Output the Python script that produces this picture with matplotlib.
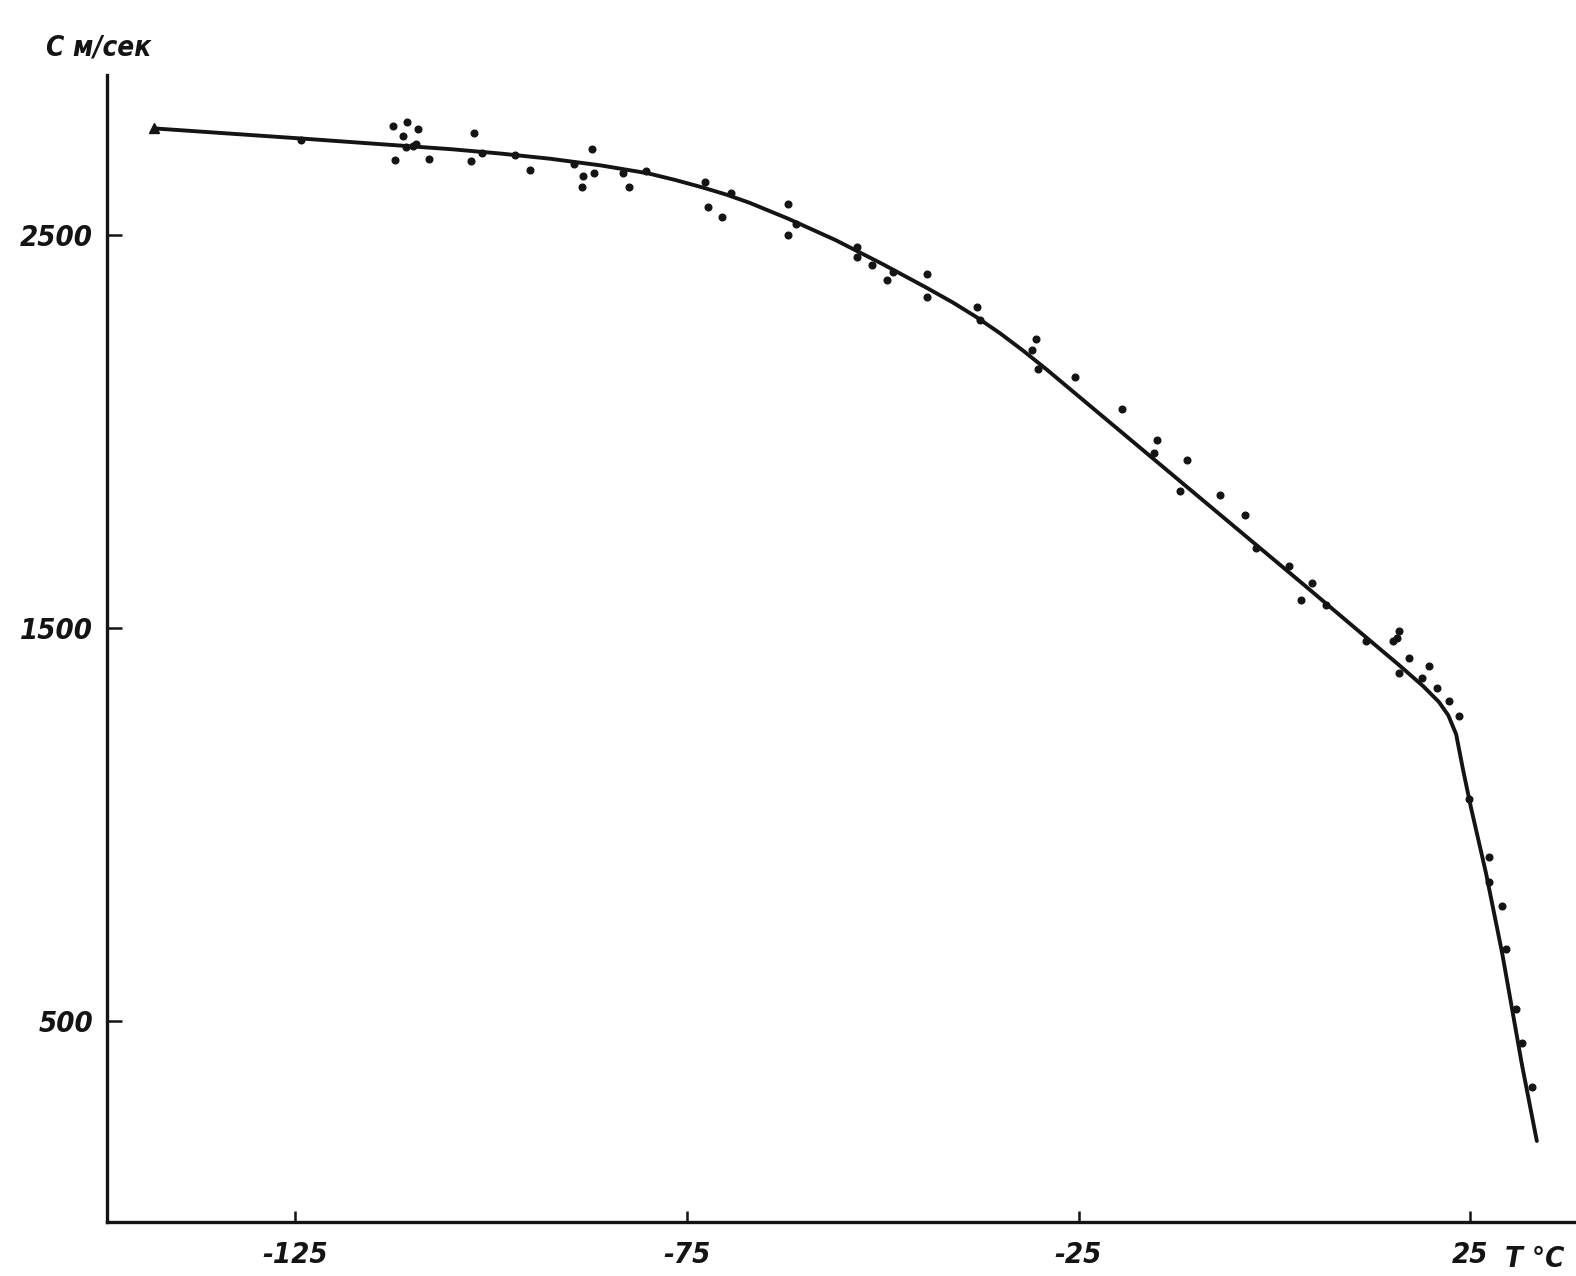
import matplotlib
matplotlib.use("Agg")
import matplotlib.pyplot as plt

# Fitted curve (T in °C, C in m/s)
curve_t = [-143.0, -124.0, -105.0, -98.75, -92.5, -86.0, -80.0, -76.5, -73.0, -70.0,
           -67.0, -62.0, -56.0, -50.0, -44.4, -41.0, -38.0, -35.0, -32.0, -29.0,
           -26.0, -20.0, -14.0, -8.0, -2.0, 4.0, 10.0, 15.9, 19.0, 21.0,
           22.2, 23.2, 24.1, 25.1, 27.0, 29.1, 31.6, 33.5]
curve_c = [2770, 2744, 2717, 2706, 2693, 2676, 2656, 2639, 2620, 2602,
           2581, 2540, 2486, 2425, 2365, 2327, 2290, 2249, 2204, 2156,
           2106, 2006, 1906, 1806, 1706, 1606, 1505, 1406, 1352, 1312,
           1278, 1230, 1138, 1043, 878, 671, 390, 196]

# Measured points
pts_t = [-112.5, -110.7, -109.3, -111.2, -110.0, -112.2, -107.9, -102.2, -102.6, -101.1,
         -96.9, -95.0, -89.4, -87.1, -88.3, -88.4, -86.9, -83.2, -82.4, -80.2,
         -72.7, -72.3, -70.5, -69.3, -62.1, -62.1, -61.0, -53.3, -53.3, -51.3,
         -49.5, -48.7, -44.3, -44.4, -38.0, -37.6, -30.4, -30.9,
         -30.2, -25.5, -19.5, -15.0, -15.3, -11.1, -12.1, -7.0, -3.8, -2.3,
         1.9, 4.8, 3.4, 6.6, 11.7, 15.6,
         15.9, 15.1, 15.9, 17.2, 19.8, 18.8, 20.7, 22.3, 23.6, 24.9,
         27.4, 27.4, 29.0, 29.6, 30.9, 31.6, 32.9, -124.2, -110.9, -109.6]
pts_c = [2776, 2786, 2768, 2750, 2724, 2689, 2691, 2758, 2686, 2707,
         2702, 2663, 2679, 2717, 2648, 2622, 2656, 2656, 2622, 2661,
         2635, 2571, 2546, 2605, 2579, 2500, 2528, 2469, 2444, 2423,
         2385, 2406, 2401, 2342, 2316, 2283, 2235, 2207,
         2158, 2138, 2056, 1977, 1946, 1926, 1849, 1839, 1786, 1704,
         1658, 1615, 1571, 1559, 1467, 1474,
         1492, 1467, 1385, 1423, 1403, 1372, 1347, 1314, 1276, 1066,
         918, 855, 793, 684, 531, 446, 334, 2740, 2722, 2730]

x_ticks = [-125, -75, -25, 25]
x_labels = ["-125", "-75", "-25", "25"]
y_ticks = [500, 1500, 2500]
y_labels = ["500", "1500", "2500"]

FONT = ["DejaVu Sans"]
INK = "#141414"
tfont = dict(family=FONT, style="italic", weight="bold", stretch="condensed", color=INK)

fig = plt.figure(figsize=(15.76, 12.76), dpi=100)
ax = fig.add_axes([0.0679, 0.0423, 0.9321, 0.8987])
ax.set_xlim(-149, 38.5)
ax.set_ylim(-10, 2905)

ax.plot(curve_t, curve_c, color=INK, lw=2.8, solid_capstyle="round",
        solid_joinstyle="round", zorder=3)
ax.plot(pts_t, pts_c, ls="none", marker="o", ms=4.8, color=INK, zorder=4)
ax.plot(curve_t[0], curve_c[0], marker="^", ms=7, color=INK, zorder=5)

for s in ["top", "right"]:
    ax.spines[s].set_visible(False)
for s in ["left", "bottom"]:
    ax.spines[s].set_linewidth(2.4)
    ax.spines[s].set_color(INK)

ax.set_xticks(x_ticks)
ax.set_xticklabels(x_labels, fontsize=21, **tfont)
ax.set_yticks(y_ticks)
ax.set_yticklabels(y_labels, fontsize=21, **tfont)
ax.tick_params(axis="x", direction="in", length=8, width=1.8, pad=14, colors=INK)
ax.tick_params(axis="y", direction="in", length=11, width=1.8, pad=10, colors=INK)

fig.text(0.029, 0.963, "C м/сек", fontsize=20, ha="left", va="center", **tfont)
ax.text(29.5, -68, "T °C", fontsize=21, ha="left", va="top", **tfont)

fig.savefig("out.png", dpi=100, facecolor="white")
